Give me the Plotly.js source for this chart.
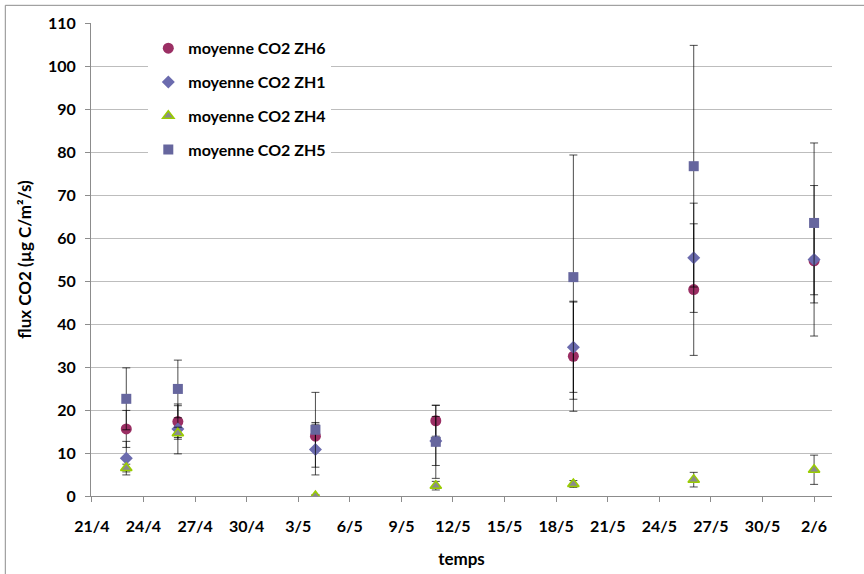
<!DOCTYPE html>
<html>
<head>
<meta charset="utf-8">
<script src="https://cdn.plot.ly/plotly-3.0.1.min.js"></script>
<style>
html,body{margin:0;padding:0;background:#fff;}
#chart{width:864px;height:574px;}
</style>
</head>
<body>
<div id="chart"></div>
<script>
// Dates of measurement
var dates = ['2013-04-23','2013-04-26','2013-05-04','2013-05-11','2013-05-19','2013-05-26','2013-06-02'];

// moyenne CO2 ZH6
var zh6 = [15.6, 17.3, 13.9, 17.5, 32.5, 48.0, 54.7];
var zh6Err = [4.3, 3.7, 3.2, 3.6, 12.8, 15.3, 17.5];

// moyenne CO2 ZH1
var zh1 = [8.8, 15.6, 10.8, 12.8, 34.6, 55.4, 55.0];
var zh1Err = [3.9, 5.8, 5.9, 5.7, 10.5, 12.7, 8.2];

// moyenne CO2 ZH4
var zh4 = [6.5, 14.6, 0.0, 2.4, 2.8, 3.8, 6.1];
var zh4Err = [0.9, 1.4, 0.3, 1.0, 0.8, 1.7, 3.4];

// moyenne CO2 ZH5
var zh5 = [22.6, 24.9, 15.4, 12.6, 50.9, 76.7, 63.5];
var zh5Err = [7.2, 6.7, 8.7, 8.5, 28.4, 28.1, 18.6];

var FONT = 'Lato, "Liberation Sans", sans-serif';

function errBar(arr){
  return {type:'data', array:arr, symmetric:true, visible:true,
          color:'rgba(0,0,0,0.7)', thickness:1, width:4};
}

var traces = [
  {name:'moyenne CO2 ZH6', x:dates, y:zh6, error_y:errBar(zh6Err), legendgroup:'a',
   mode:'markers', type:'scatter',
   marker:{symbol:'circle', size:11, color:'#9B2F64'}},
  {name:'moyenne CO2 ZH1', x:dates, y:zh1, error_y:errBar(zh1Err), legendgroup:'b',
   mode:'markers', type:'scatter',
   marker:{symbol:'diamond', size:10, color:'#6B6BAE'}},
  {name:'moyenne CO2 ZH4', x:dates, y:zh4, error_y:errBar(zh4Err), legendgroup:'c',
   mode:'markers', type:'scatter',
   marker:{symbol:'triangle-up', size:10, color:'#8A8A8A', line:{color:'#9ACD00', width:1.5}}},
  {name:'moyenne CO2 ZH5', x:dates, y:zh5, error_y:errBar(zh5Err), legendgroup:'d',
   mode:'markers', type:'scatter',
   marker:{symbol:'square', size:10, color:'#66669E'}}
];

var L = 90.7, R = 831.7, T = 22.7, B = 496.3, W = 864, H = 574;
var pw = R - L, ph = B - T;
function px2x(p){ return (p - L) / pw; }
function py2y(p){ return 1 - (p - T) / ph; }

var layout = {
  width: W, height: H,
  margin: {l: L, r: W - R, t: T, b: H - B, pad: 0},
  paper_bgcolor: '#fff', plot_bgcolor: '#fff',
  font: {family: FONT, size: 15, color: '#000'},
  showlegend: true,
  legend: {
    x: px2x(148), y: py2y(31), xanchor: 'left', yanchor: 'top',
    bgcolor: '#fff', borderwidth: 0,
    traceorder: 'grouped', tracegroupgap: 10,
    font: {family: FONT, size: 16, color: '#000', weight: 'bold'}
  },
  xaxis: {
    type: 'date',
    range: ['2013-04-20 22:45', '2013-06-03 01:00'],
    tick0: '2013-04-21', dtick: 3 * 86400000,
    tickformat: '%-d/%-m',
    showgrid: false, zeroline: false,
    showline: true, linecolor: '#8c8c8c', linewidth: 1,
    ticks: 'outside', ticklen: 5, tickcolor: '#8c8c8c',
    ticklabelstandoff: 11,
    tickfont: {family: FONT, size: 16, color: '#000', weight: 'bold'},
    title: {text: 'temps', standoff: 18, font: {family: FONT, size: 17, color: '#000', weight: 'bold'}}
  },
  yaxis: {
    range: [0, 110], dtick: 10, tick0: 0,
    showgrid: true, gridcolor: '#bdbdbd', gridwidth: 1,
    zeroline: false,
    showline: true, linecolor: '#8c8c8c', linewidth: 1,
    ticks: 'outside', ticklen: 5, tickcolor: '#8c8c8c',
    ticklabelstandoff: 6,
    tickfont: {family: FONT, size: 16, color: '#000', weight: 'bold'},
    title: {text: 'flux CO2 (µg C/m²/s)', standoff: 12, font: {family: FONT, size: 17, color: '#000', weight: 'bold'}}
  },
  shapes: [
    {type: 'rect', xref: 'paper', yref: 'paper', layer: 'above',
     x0: px2x(5), x1: px2x(900), y0: py2y(600), y1: py2y(5),
     line: {color: '#8c8c8c', width: 1}, fillcolor: 'rgba(0,0,0,0)'}
  ]
};

Plotly.newPlot('chart', traces, layout, {displayModeBar: false, staticPlot: true});
</script>
</body>
</html>
